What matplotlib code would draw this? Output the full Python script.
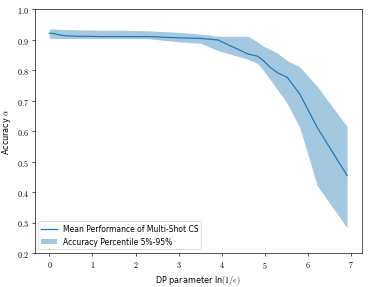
import matplotlib
matplotlib.use('Agg')
import matplotlib.pyplot as plt
from matplotlib.ticker import FuncFormatter

plt.rcParams['mathtext.fontset'] = 'cm'

# x = ln(1/eps)
dp_param = [0.0, 0.105, 0.223, 0.357, 0.511, 0.693, 0.916, 1.204, 1.609, 2.303, 2.996,
            3.507, 3.912, 4.605, 4.828, 4.962, 5.116, 5.298, 5.521, 5.809, 6.215, 6.908]
mean_acc = [0.921, 0.920, 0.916, 0.913, 0.912, 0.911, 0.911, 0.910, 0.910, 0.910, 0.906,
            0.904, 0.899, 0.853, 0.846, 0.832, 0.810, 0.791, 0.776, 0.722, 0.612, 0.454]
upper_acc = [0.935, 0.935, 0.934, 0.933, 0.933, 0.932, 0.932, 0.931, 0.931, 0.929, 0.924,
             0.918, 0.911, 0.911, 0.893, 0.879, 0.869, 0.855, 0.831, 0.811, 0.747, 0.615]
lower_acc = [0.904, 0.904, 0.904, 0.904, 0.904, 0.904, 0.904, 0.904, 0.904, 0.903, 0.893,
             0.888, 0.864, 0.836, 0.822, 0.800, 0.770, 0.735, 0.690, 0.612, 0.421, 0.282]

fig, ax = plt.subplots(figsize=(6.4, 4.94), dpi=58.28)
fig.subplots_adjust(left=0.0925, right=0.9705, top=0.965, bottom=0.118)

ax.plot(dp_param, mean_acc, color='#1f77b4', lw=1.5, label='Mean Performance of Multi-Shot CS')
ax.fill_between(dp_param, lower_acc, upper_acc, color='#1f77b4', alpha=0.4, lw=0,
                label='Accuracy Percentile 5%-95%')

ax.set_ylim(0.2, 1.0)
ax.xaxis.set_major_formatter(FuncFormatter(lambda v, p: r'$%g$' % v))
ax.yaxis.set_major_formatter(FuncFormatter(lambda v, p: r'$%.1f$' % v))
ax.set_xlabel(r'DP parameter ln$(1/\epsilon)$')
ax.set_ylabel(r'Accuracy $\alpha$')
ax.legend(loc='lower left', fontsize=9.4)

plt.savefig('out.png')
